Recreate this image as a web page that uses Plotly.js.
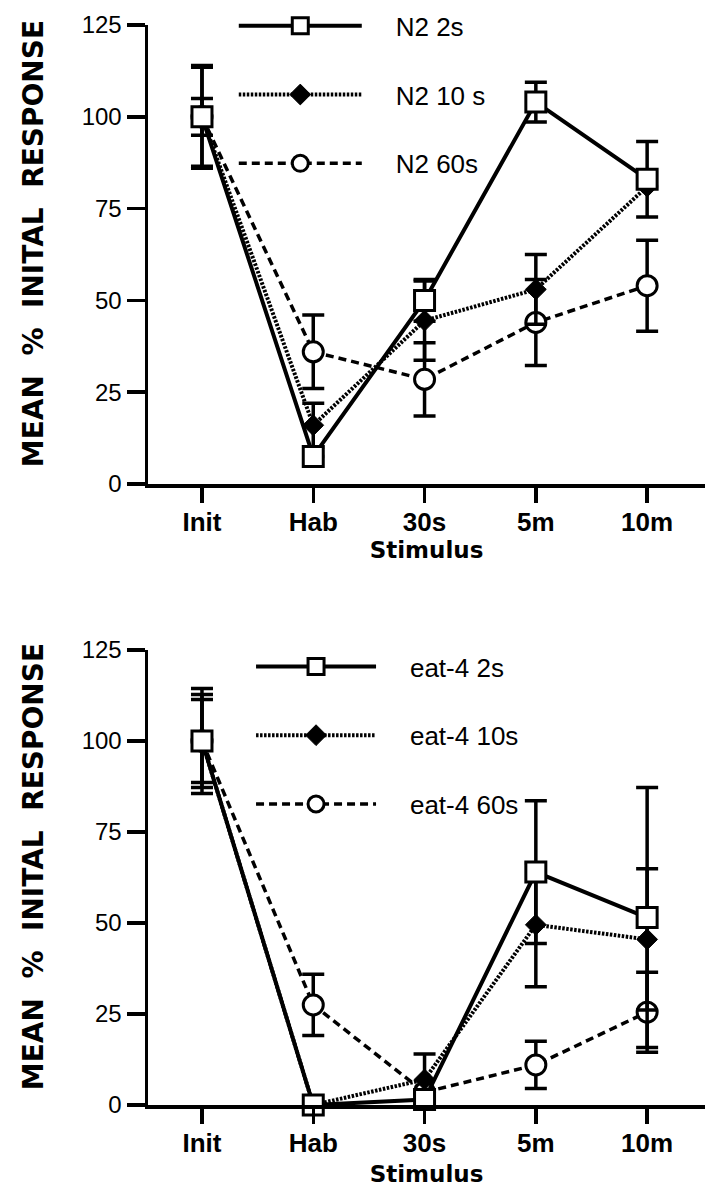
<!DOCTYPE html>
<html>
<head>
<meta charset="utf-8">
<script src="https://cdn.plot.ly/plotly-3.0.1.min.js"></script>
<style>html,body{margin:0;padding:0;background:#fff;}#chart{width:716px;height:1200px;}</style>
</head>
<body>
<div id="chart"></div>
<script>
// Categories (stimulus)
var categories = ['Init', 'Hab', '30s', '5m', '10m'];

// Top panel: N2
var n2_2s      = [100, 7.5, 50, 104, 83];
var n2_2s_err  = [14, 0, 5.7, 5.4, 10.3];
var n2_10s     = [100, 16, 44.5, 53, 81];
var n2_10s_err = [5, 6, 10.8, 9.5, 0];
var n2_60s     = [100, 36, 28.5, 44, 54];
var n2_60s_err = [13.5, 10, 10, 11.7, 12.4];

// Bottom panel: eat-4
var e4_2s      = [100, 0, 1.5, 64, 51.5];
var e4_2s_err  = [14.4, 0, 0, 19.6, 35.7];
var e4_10s     = [100, 0, 7, 49.5, 45.5];
var e4_10s_err = [12.8, 0, 7, 17, 19.4];
var e4_60s     = [100, 27.5, 3.5, 11, 25.5];
var e4_60s_err = [11.4, 8.4, 0, 6.5, 11];

var topNames = ['N2 2s', 'N2 10 s', 'N2 60s'];
var bottomNames = ['eat-4 2s', 'eat-4 10s', 'eat-4 60s'];
var yTitle = '\u2800MEAN\u00a0\u00a0%\u00a0\u00a0INITAL\u00a0\u00a0RESPONSE';
var xTitle = 'Stimulus';

var pad = '\u00a0\u00a0\u00a0\u00a0';

var styles = [
  {line: {color: '#000', width: 4, dash: 'solid'},
   marker: {symbol: 'square', size: 20, color: '#fff', line: {width: 3, color: '#000'}}},
  {line: {color: '#000', width: 4, dash: '2.5px,1.5px'},
   marker: {symbol: 'diamond', size: 16, color: '#000', line: {width: 1, color: '#000'}}},
  {line: {color: '#000', width: 3.5, dash: '8px,5px'},
   marker: {symbol: 'circle', size: 20, color: '#fff', line: {width: 3, color: '#000'}}}
];

function mk(y, err, name, st, xa, ya, leg, grp, rank) {
  return {
    type: 'scatter', mode: 'lines+markers',
    x: categories, y: y, name: pad + name,
    xaxis: xa, yaxis: ya, legend: leg, legendgroup: grp, legendrank: rank,
    line: st.line, marker: st.marker,
    error_y: {type: 'data', array: err, visible: true, color: '#000', thickness: 3.5, width: 11},
    cliponaxis: false
  };
}

// drawn back to front: 60s, 10s, 2s (legendrank lists 2s first)
var data = [
  mk(n2_60s, n2_60s_err, topNames[2], styles[2], 'x', 'y', 'legend', 'c', 3),
  mk(n2_10s, n2_10s_err, topNames[1], styles[1], 'x', 'y', 'legend', 'b', 2),
  mk(n2_2s, n2_2s_err, topNames[0], styles[0], 'x', 'y', 'legend', 'a', 1),
  mk(e4_60s, e4_60s_err, bottomNames[2], styles[2], 'x2', 'y2', 'legend2', 'f', 3),
  mk(e4_10s, e4_10s_err, bottomNames[1], styles[1], 'x2', 'y2', 'legend2', 'e', 2),
  mk(e4_2s, e4_2s_err, bottomNames[0], styles[0], 'x2', 'y2', 'legend2', 'd', 1)
];

var tickFont = {family: 'Liberation Sans, Arial, sans-serif', size: 24, color: '#000'};
var catFont = {family: 'Liberation Sans, Arial, sans-serif', size: 26, color: '#000', weight: 700};
var xTitleFont = {family: 'DejaVu Sans, sans-serif', size: 23, color: '#000', weight: 700};
var yTitleFont = {family: 'DejaVu Sans, sans-serif', size: 28, color: '#000', weight: 700};
var legFont = {family: 'Liberation Sans, Arial, sans-serif', size: 26, color: '#000'};

function xax(anchor, standoff) {
  return {
    anchor: anchor, type: 'category', range: [-0.485, 4.52],
    showline: true, linewidth: 3.5, linecolor: '#000',
    ticks: 'outside', ticklen: 15, tickwidth: 3.5, tickcolor: '#000',
    ticklabelstandoff: -3,
    showgrid: false, zeroline: false, tickfont: catFont,
    title: {text: xTitle, font: xTitleFont, standoff: standoff}
  };
}
function yax(anchor, dom) {
  return {
    anchor: anchor, domain: dom, range: [0, 125], tickvals: [0, 25, 50, 75, 100, 125],
    showline: true, linewidth: 3.5, linecolor: '#000',
    ticks: 'outside', ticklen: 18, tickwidth: 3.5, tickcolor: '#000',
    showgrid: false, zeroline: false, tickfont: tickFont,
    title: {text: yTitle, font: yTitleFont, standoff: 31}
  };
}

var layout = {
  width: 716, height: 1200,
  paper_bgcolor: '#fff', plot_bgcolor: '#fff',
  margin: {l: 148, r: 11, t: 25, b: 95, autoexpand: false},
  showlegend: true,
  xaxis: xax('y', 0),
  yaxis: yax('x', [0.575, 1]),
  xaxis2: xax('y2', 10),
  yaxis2: yax('x2', [0, 0.4213]),
  legend: {x: 0.154, y: 1.021, xanchor: 'left', yanchor: 'top', font: legFont,
    bgcolor: 'rgba(0,0,0,0)', itemwidth: 123, tracegroupgap: 32, traceorder: 'grouped'},
  legend2: {x: 0.185, y: 0.4278, xanchor: 'left', yanchor: 'top', font: legFont,
    bgcolor: 'rgba(0,0,0,0)', itemwidth: 120, tracegroupgap: 32, traceorder: 'grouped'}
};

Plotly.newPlot('chart', data, layout, {displayModeBar: false, staticPlot: true});
</script>
</body>
</html>
